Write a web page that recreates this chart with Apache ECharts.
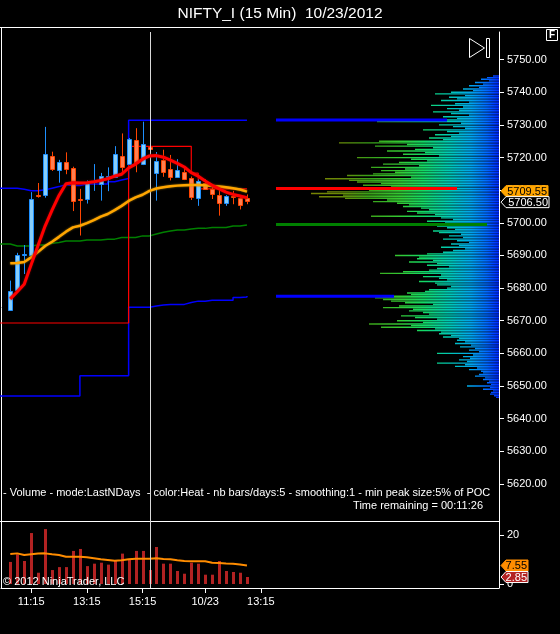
<!DOCTYPE html>
<html>
<head>
<meta charset="utf-8">
<title>NIFTY_I (15 Min) 10/23/2012</title>
<script src="https://cdn.jsdelivr.net/npm/echarts@6.0.0/dist/echarts.min.js"></script>
<style>
html,body{margin:0;padding:0;background:#000;overflow:hidden;}
#chart{width:560px;height:634px;}
</style>
</head>
<body>
<div id="chart"></div>
<script>
// ================= DATA =================
// 15-min candles, bars 0..34
const barOpen  = [5673.3,5679.4,5690.0,5690.1,5708.5,5708.4,5720.4,5716.4,5718.7,5716.7,5707.3,5707.2,5712.5,5711.8,5714.2,5714.3,5720.6,5718.0,5725.3,5717.9,5723.3,5715.2,5719.3,5716.5,5714.1,5715.7,5713.6,5707.5,5712.3,5710.3,5708.5,5706.2,5708.2,5707.5,5707.5];
const barHigh  = [5682.3,5690.8,5693.2,5709.4,5712.2,5729.4,5721.8,5719.3,5721.6,5717.2,5710.4,5713.0,5718.0,5715.3,5717.0,5723.5,5727.4,5726.0,5729.0,5731.0,5727.6,5721.7,5722.4,5720.8,5719.5,5717.4,5714.2,5713.3,5713.4,5711.3,5710.0,5708.5,5709.8,5708.5,5708.7];
const barLow   = [5673.0,5679.2,5684.3,5689.9,5707.7,5707.7,5715.9,5712.3,5714.9,5703.6,5696.1,5705.9,5709.8,5706.8,5709.7,5714.2,5715.2,5717.8,5715.5,5717.7,5722.7,5706.8,5714.1,5713.0,5714.0,5713.1,5707.0,5705.2,5710.2,5707.3,5702.2,5705.2,5705.7,5704.1,5705.7];
const barClose = [5679.2,5690.1,5690.3,5707.3,5708.3,5721.0,5716.4,5718.7,5716.7,5706.7,5707.1,5712.1,5712.7,5714.3,5714.4,5721.2,5717.3,5725.6,5718.1,5724.1,5722.8,5718.9,5715.7,5714.1,5716.2,5713.6,5707.8,5712.8,5710.6,5708.7,5706.2,5708.2,5708.0,5705.5,5706.5];

// moving averages, bars 0..34
const fastMA = [5676.7,5678.9,5681.2,5687.2,5693.1,5699.0,5703.9,5708.4,5712.0,5712.3,5712.2,5712.3,5712.6,5713.0,5713.5,5714.3,5714.9,5716.8,5718.0,5719.5,5720.5,5720.6,5720.1,5719.2,5718.2,5717.1,5715.4,5714.3,5712.8,5711.5,5710.4,5709.4,5708.7,5708.2,5707.7];
const slowMA = [5687.6,5687.7,5688.0,5689.4,5691.1,5692.9,5694.2,5695.7,5697.3,5698.6,5699.1,5699.9,5700.8,5701.9,5702.7,5703.9,5705.2,5706.7,5707.8,5708.6,5709.8,5710.5,5710.9,5711.2,5711.4,5711.5,5711.6,5711.6,5711.5,5711.3,5711.1,5710.9,5710.6,5710.2,5709.55];

// step lines, bars -2..34 (first two bars lie left of the visible window)
const stepFirstBar = -2;
const greenLevel = [5693.5,5693.5,5692.9,5692.9,5692.9,5693.2,5693.2,5693.7,5694.0,5694.4,5694.4,5694.4,5694.7,5694.7,5694.7,5695.0,5695.0,5695.5,5695.5,5695.5,5696.0,5696.0,5696.6,5697.1,5697.5,5697.8,5697.8,5698.1,5698.3,5698.3,5698.6,5698.6,5698.6,5699.0,5699.0,5699.3,5699.3];
const upperBand  = [5710.6,5710.6,5710.6,5710.3,5709.8,5709.8,5710.1,5710.6,5711.1,5711.7,5711.4,5711.4,5711.9,5711.9,5711.9,5711.9,5712.6,5713.1,5713.6,5731.4,5731.4,5731.4,5731.4,5731.4,5731.4,5731.4,5731.4,5731.4,5731.4,5731.4,5731.4,5731.4,5731.4,5731.4,5731.4,5731.4,5731.4];
const lowerBand  = [5646.9,5646.9,5646.9,5646.9,5646.9,5646.9,5646.9,5646.9,5646.9,5646.9,5646.9,5646.9,5653.1,5653.1,5653.1,5653.1,5653.1,5653.1,5653.1,5674.1,5674.1,5674.1,5674.5,5674.8,5675.0,5675.0,5675.0,5675.6,5676.0,5676.0,5676.3,5676.3,5676.3,5676.3,5677.1,5677.3,5677.6];
const devPOC     = [5669.3,5669.3,5669.3,5669.3,5669.3,5669.3,5669.3,5669.3,5669.3,5669.3,5669.3,5669.3,5669.3,5669.3,5669.3,5669.3,5669.3,5669.3,5669.3,5723.45,5723.45,5723.45,5723.45,5723.45,5723.45,5723.45,5723.45,5723.45,5715.2,5710.4,5710.4,5710.4,5710.4,5710.4,5710.4,5710.4,5710.4];

// volume pane, bars 0..34
const volumes = [9.0,12.1,9.4,20.8,4.6,22.4,5.7,6.9,6.9,13.5,14.3,7.3,8.3,8.7,7.9,9.5,12.4,10.1,13.5,13.5,5.7,15.1,8.3,8.3,5.3,4.2,8.7,8.3,3.8,3.8,9.4,5.3,4.9,4.6,2.85];
const volMA   = [12.2,12.5,11.8,12.1,12.4,12.5,12.1,11.8,11.1,11.1,11.1,10.9,10.5,10.1,9.8,9.5,9.7,10.1,10.3,10.3,10.3,10.5,10.2,10.1,9.7,9.4,9.3,9.3,9.3,8.7,8.6,8.4,8.3,8.0,7.55];

// volume profile (price level -> volume units)
const profilePrice = [
5745.0,5744.5,5744.0,5743.5,5743.0,5742.5,5742.0,5741.5,5741.0,5740.5,
5740.0,5739.5,5739.0,5738.5,5738.0,5737.5,5737.0,5736.5,5736.0,5735.5,
5735.0,5734.5,5734.0,5733.5,5733.0,5732.5,5732.0,5731.5,5731.0,5730.5,
5730.0,5729.5,5729.0,5728.5,5728.0,5727.5,5727.0,5726.5,5726.0,5725.5,
5725.0,5724.5,5724.0,5723.5,5723.0,5722.5,5722.0,5721.5,5721.0,5720.5,
5720.0,5719.5,5719.0,5718.5,5718.0,5717.5,5717.0,5716.5,5716.0,5715.5,
5715.0,5714.5,5714.0,5713.5,5713.0,5712.5,5712.0,5711.5,5711.0,5710.5,
5710.0,5709.5,5709.0,5708.5,5708.0,5707.5,5707.0,5706.5,5706.0,5705.5,
5705.0,5704.5,5704.0,5703.5,5703.0,5702.5,5702.0,5701.5,5701.0,5700.5,
5700.0,5699.5,5699.0,5698.5,5698.0,5697.5,5697.0,5696.5,5696.0,5695.5,
5695.0,5694.5,5694.0,5693.5,5693.0,5692.5,5692.0,5691.5,5691.0,5690.5,
5690.0,5689.5,5689.0,5688.5,5688.0,5687.5,5687.0,5686.5,5686.0,5685.5,
5685.0,5684.5,5684.0,5683.5,5683.0,5682.5,5682.0,5681.5,5681.0,5680.5,
5680.0,5679.5,5679.0,5678.5,5678.0,5677.5,5677.0,5676.5,5676.0,5675.5,
5675.0,5674.5,5674.0,5673.5,5673.0,5672.5,5672.0,5671.5,5671.0,5670.5,
5670.0,5669.5,5669.0,5668.5,5668.0,5667.5,5667.0,5666.5,5666.0,5665.5,
5665.0,5664.5,5664.0,5663.5,5663.0,5662.5,5662.0,5661.5,5661.0,5660.5,
5660.0,5659.5,5659.0,5658.5,5658.0,5657.5,5657.0,5656.5,5656.0,5655.5,
5655.0,5654.5,5654.0,5653.5,5653.0,5652.5,5652.0,5651.5,5651.0,5650.5,
5650.0,5649.5,5649.0,5648.5,5648.0,5647.5,5647.0,5646.5];
const profileVolume = [
6,12,18,10,24,16,30,20,36,26,
48,64,34,50,42,58,30,44,68,36,
52,40,66,48,30,56,42,62,122,38,
60,46,34,76,52,40,64,48,70,56,
120,160,92,124,66,84,112,74,96,60,
142,88,72,100,116,80,128,94,118,104,
126,152,88,174,150,142,118,136,108,160,
130,172,188,156,180,154,112,126,102,90,
96,78,70,92,82,64,128,58,46,72,
54,40,62,52,44,66,60,38,50,36,
56,42,30,48,40,58,34,46,56,72,
104,80,82,66,90,62,72,50,62,70,
96,119,58,76,60,52,80,64,62,48,
52,70,74,92,88,110,124,116,108,94,
66,100,116,86,90,76,70,98,84,62,
102,76,130,88,118,64,82,58,60,48,
56,40,42,34,44,28,39,24,30,20,
62,26,36,29,40,32,62,34,44,22,
30,18,16,20,24,14,16,10,12,8,
32,9,16,6,8,9,5,3];

// key profile levels: value-area high, POC, mid level, value-area low
const keyLevelPrice = [5731.5, 5710.5, 5699.5, 5677.5];
const keyLevelFrom  = [223, 223, 223, 223];
const keyLevelTo    = [52, 42, 12, 105];

// axis ticks
const priceTicks = [5620,5630,5640,5650,5660,5670,5680,5690,5700,5710,5720,5730,5740,5750];
const volTicks = [0, 20];
const timeTickBar = [3, 11, 19, 28, 36];
const timeTickLabel = ['11:15','13:15','15:15','10/23','13:15'];
const crosshairBar = 20.1;

// ================= STYLE =================
const FONT = "'Liberation Sans', Arial, sans-serif";
const keyLevelColor = ['#0000ff', '#ff0000', '#008000', '#0000ff'];
const heatStops = [
  {offset:0.00, color:'#0028ff'},
  {offset:0.06, color:'#0068ff'},
  {offset:0.14, color:'#00a4ec'},
  {offset:0.25, color:'#00c8b4'},
  {offset:0.38, color:'#14d864'},
  {offset:0.50, color:'#34c832'},
  {offset:0.65, color:'#3aa018'},
  {offset:0.80, color:'#6a8a08'},
  {offset:1.00, color:'#808000'}
];

const chart = echarts.init(document.getElementById('chart'), null, {renderer:'canvas', width:560, height:634});

const candleData = barOpen.map((o, k) => [k, o, barClose[k], barLow[k], barHigh[k]]);
const stepData = arr => arr.map((v, k) => [k + stepFirstBar, v]);
const barData = arr => arr.map((v, k) => [k, v]);
const profileData = profileVolume.map((v, k) => [v, profilePrice[k]]);
const keyData = keyLevelPrice.map((p, k) => [keyLevelFrom[k], p, keyLevelTo[k]]);

function renderCandle(params, api) {
  const i = api.value(0), o = api.value(1), c = api.value(2), l = api.value(3), h = api.value(4);
  const pO = api.coord([i, o]), pC = api.coord([i, c]), pL = api.coord([i, l]), pH = api.coord([i, h]);
  const xc = Math.round(pO[0]) + 0.5;
  const up = c >= o;
  const stroke = up ? '#1e90ff' : '#ff4500';
  const fill = up ? '#87cefa' : '#ff7f50';
  const top = Math.round(Math.min(pO[1], pC[1])) + 0.5;
  const bh = Math.max(Math.round(Math.abs(pO[1] - pC[1])), 1);
  return {type:'group', children:[
    {type:'line', shape:{x1:xc, y1:pH[1], x2:xc, y2:pL[1]}, style:{stroke:stroke, lineWidth:1}},
    {type:'rect', shape:{x:xc-2, y:top, width:4, height:bh}, style:{fill:fill, stroke:stroke, lineWidth:1}}
  ]};
}
function renderVolume(params, api) {
  const p0 = api.coord([api.value(0), 0]), p1 = api.coord([api.value(0), api.value(1)]);
  const xc = Math.round(p0[0]);
  return {type:'rect', shape:{x:xc-1, y:p1[1], width:3, height:p0[1]-p1[1]}, style:{fill:'#b22222'}};
}
function renderProfile(params, api) {
  const len = api.value(0), price = api.value(1);
  const a = api.coord([len, price]), b = api.coord([0, price]);
  const g = api.coord([200, price]);
  const h = api.size([0, 0.5])[1];
  return {type:'rect', shape:{x:a[0], y:a[1]-h*0.42, width:b[0]-a[0], height:h*0.84},
    style:{fill:{type:'linear', x:b[0], y:0, x2:g[0], y2:0, global:true, colorStops:heatStops}}};
}
function renderKey(params, api) {
  const a = api.coord([api.value(0), api.value(1)]), b = api.coord([api.value(2), api.value(1)]);
  return {type:'rect', shape:{x:a[0], y:a[1]-1.5, width:b[0]-a[0], height:3}, style:{fill:keyLevelColor[params.dataIndex]}};
}

const xMin = -1.336, xMax = 70.21;
const axisText = {color:'#ffffff', fontFamily:FONT, fontSize:11};

const option = {
  backgroundColor:'#000000',
  animation:false,
  grid:[
    {left:1, top:32, width:498, height:489},
    {left:1, top:521, width:498, height:67}
  ],
  xAxis:[
    {type:'value', gridIndex:0, min:xMin, max:xMax, show:false, axisLine:{onZero:false}},
    {type:'value', gridIndex:1, min:xMin, max:xMax, position:'bottom',
      axisLine:{show:true, onZero:false, lineStyle:{color:'#ffffff', width:1}},
      axisTick:{show:true, customValues:timeTickBar, length:5, lineStyle:{color:'#ffffff'}},
      axisLabel:Object.assign({customValues:timeTickBar, margin:8,
        formatter:v => timeTickLabel[timeTickBar.indexOf(v)]}, axisText),
      splitLine:{show:false}},
    {type:'value', gridIndex:0, min:0, max:498, inverse:true, show:false, axisLine:{onZero:false}}
  ],
  yAxis:[
    {type:'value', gridIndex:0, position:'right', min:5608.62, max:5758.48,
      axisLine:{show:true, onZero:false, lineStyle:{color:'#ffffff', width:1}},
      axisTick:{show:true, customValues:priceTicks, length:5, lineStyle:{color:'#ffffff'}},
      axisLabel:Object.assign({customValues:priceTicks, margin:8, formatter:v => v.toFixed(2)}, axisText),
      splitLine:{show:false}},
    {type:'value', gridIndex:1, position:'right', min:-1.63, max:25.71,
      axisLine:{show:true, onZero:false, lineStyle:{color:'#ffffff', width:1}},
      axisTick:{show:true, customValues:volTicks, length:5, lineStyle:{color:'#ffffff'}},
      axisLabel:Object.assign({customValues:volTicks, margin:8, formatter:v => String(v)}, axisText),
      splitLine:{show:false}}
  ],
  series:[
    {name:'profile', type:'custom', xAxisIndex:2, yAxisIndex:0, renderItem:renderProfile,
      data:profileData, encode:{x:0, y:1}, silent:true, z:1},
    {name:'keyLevels', type:'custom', xAxisIndex:2, yAxisIndex:0, renderItem:renderKey,
      data:keyData, encode:{x:[0,2], y:1}, silent:true, z:2},
    {name:'lowerBand', type:'line', xAxisIndex:0, yAxisIndex:0, step:'end', data:stepData(lowerBand),
      symbol:'none', lineStyle:{color:'#0000ff', width:1.5}, z:3},
    {name:'upperBand', type:'line', xAxisIndex:0, yAxisIndex:0, step:'end', data:stepData(upperBand),
      symbol:'none', lineStyle:{color:'#0000ff', width:1.5}, z:3},
    {name:'green', type:'line', xAxisIndex:0, yAxisIndex:0, step:'end', data:stepData(greenLevel),
      symbol:'none', lineStyle:{color:'#008000', width:1.5}, z:3},
    {name:'devPOC', type:'line', xAxisIndex:0, yAxisIndex:0, step:'end', data:stepData(devPOC),
      symbol:'none', lineStyle:{color:'#ff0000', width:1.2}, z:3},
    {name:'candles', type:'custom', xAxisIndex:0, yAxisIndex:0, renderItem:renderCandle,
      data:candleData, encode:{x:0, y:[1,2,3,4]}, z:4},
    {name:'slowMA', type:'line', xAxisIndex:0, yAxisIndex:0, data:barData(slowMA), symbol:'none',
      lineStyle:{color:'#ffa500', width:2.5, shadowColor:'rgba(184,134,11,0.9)', shadowBlur:2}, z:5},
    {name:'fastMA', type:'line', xAxisIndex:0, yAxisIndex:0, data:barData(fastMA), symbol:'none',
      lineStyle:{color:'#ff0000', width:3, shadowColor:'rgba(139,0,0,0.9)', shadowBlur:2}, z:6,
      markLine:{silent:true, symbol:'none', label:{show:false},
        lineStyle:{color:'#d8d8d8', width:1, type:'solid'}, data:[{xAxis:crosshairBar}]}},
    {name:'volume', type:'custom', xAxisIndex:1, yAxisIndex:1, renderItem:renderVolume,
      data:barData(volumes), encode:{x:0, y:1}, z:3},
    {name:'volMA', type:'line', xAxisIndex:1, yAxisIndex:1, data:barData(volMA), symbol:'none',
      lineStyle:{color:'#ff8c00', width:2}, z:4,
      markLine:{silent:true, symbol:'none', label:{show:false},
        lineStyle:{color:'#d8d8d8', width:1, type:'solid'}, data:[{xAxis:crosshairBar}]}}
  ]
};
chart.setOption(option);

// ---- decorations and price tags ----
function tagShapes(yc, x0, x1, text, fill, stroke, textColor) {
  const hh = 5.5;
  return [
    {type:'polygon', z:100, shape:{points:[[x0, yc],[x0+5, yc-hh],[x1, yc-hh],[x1, yc+hh],[x0+5, yc+hh]]},
      style:{fill:fill, stroke:stroke, lineWidth:1}},
    {type:'text', z:101, x:x1-1, y:yc+0.5, style:{text:text, fill:textColor, font:'11px ' + FONT,
      align:'right', verticalAlign:'middle'}}
  ];
}
const lastSlow = slowMA[slowMA.length-1], lastClose = barClose[barClose.length-1];
let ySlow = chart.convertToPixel({yAxisIndex:0}, lastSlow);
let yClose = chart.convertToPixel({yAxisIndex:0}, lastClose);
if (Math.abs(yClose - ySlow) < 11) {
  const mid = (ySlow + yClose) / 2;
  const s = ySlow < yClose ? -1 : 1;
  ySlow = mid + s*5.5; yClose = mid - s*5.5;
}
const lastVolMA = volMA[volMA.length-1], lastVol = volumes[volumes.length-1];
const yVolMA = chart.convertToPixel({yAxisIndex:1}, lastVolMA);
const yVol = chart.convertToPixel({yAxisIndex:1}, lastVol);

const graphics = [
  {type:'text', x:280, y:14, style:{text:'NIFTY_I (15 Min)  10/23/2012', fill:'#ffffff',
    font:'15.5px ' + FONT, align:'center', verticalAlign:'middle'}},
  {type:'line', shape:{x1:0, y1:27.5, x2:560, y2:27.5}, style:{stroke:'#ffffff', lineWidth:1}},
  {type:'line', shape:{x1:1.5, y1:27, x2:1.5, y2:588}, style:{stroke:'#ffffff', lineWidth:1}},
  {type:'line', shape:{x1:0, y1:521.5, x2:499, y2:521.5}, style:{stroke:'#ffffff', lineWidth:1}},
  {type:'rect', shape:{x:546.5, y:29.5, width:11, height:11}, style:{fill:'none', stroke:'#ffffff', lineWidth:1}},
  {type:'text', x:552, y:35.5, style:{text:'F', fill:'#ffffff', font:'bold 10px ' + FONT, align:'center', verticalAlign:'middle'}},
  {type:'polygon', shape:{points:[[469.5,38.5],[469.5,57.5],[484.5,48]]}, style:{fill:'none', stroke:'#ffffff', lineWidth:1}},
  {type:'rect', shape:{x:486.5, y:38.5, width:3, height:19}, style:{fill:'none', stroke:'#ffffff', lineWidth:1}},
  {type:'text', x:3, y:493, style:{text:'- Volume - mode:LastNDays  - color:Heat - nb bars/days:5 - smoothing:1 - min peak size:5% of POC',
    fill:'#ffffff', font:'11px ' + FONT, align:'left', verticalAlign:'middle'}},
  {type:'text', x:483, y:506, style:{text:'Time remaining = 00:11:26', fill:'#ffffff', font:'11px ' + FONT,
    align:'right', verticalAlign:'middle'}},
  {type:'text', x:3, y:582, z:50, style:{text:'\u00a9 2012 NinjaTrader, LLC', fill:'#ffffff', font:'11px ' + FONT,
    align:'left', verticalAlign:'middle'}}
]
.concat(tagShapes(ySlow, 501, 548, lastSlow.toFixed(2), '#ffa500', '#ffa500', '#000000'))
.concat(tagShapes(yClose, 501, 549, lastClose.toFixed(2), '#000000', '#ffffff', '#ffffff'))
.concat(tagShapes(yVolMA, 501, 528, lastVolMA.toFixed(2), '#ff8c00', '#ff8c00', '#000000'))
.concat(tagShapes(yVol, 501, 528, lastVol.toFixed(2), '#b22222', '#ffffff', '#ffffff'));

chart.setOption({graphic:graphics});
</script>
</body>
</html>
